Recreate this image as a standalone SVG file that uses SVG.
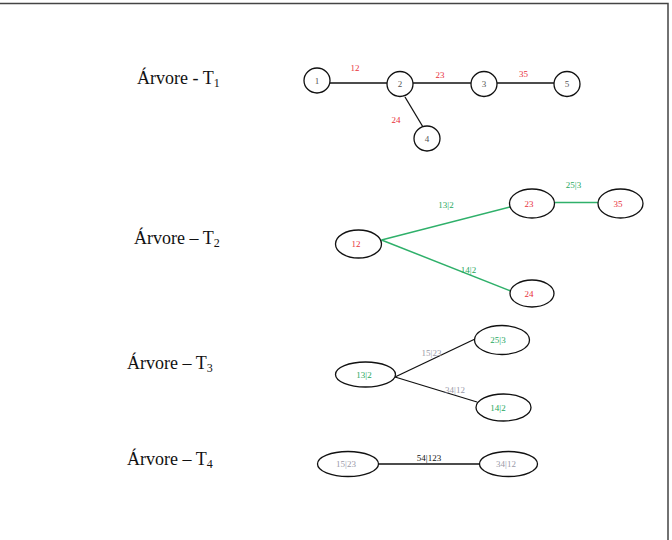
<svg xmlns="http://www.w3.org/2000/svg" width="672" height="540" viewBox="0 0 672 540">
<style>
.n{fill:#fff;stroke:#111;stroke-width:1.3}
.t{font-family:"Liberation Serif",serif;font-size:9px;text-anchor:middle}
.title{font-family:"Liberation Serif",serif;font-size:18px;fill:#111}
.sub{font-size:12px}
.red{fill:#e8303a}
.grn{fill:#1fa860}
.gry{fill:#9a9aa8}
.dk{fill:#555}
.blk{fill:#111}
.e{stroke:#111;stroke-width:1.3;fill:none}
.eg{stroke:#2fb06a;stroke-width:1.5;fill:none}
</style>
<rect width="672" height="540" fill="#fff"/>
<path d="M0 3.5H668V540" fill="none" stroke="#444" stroke-width="1.5"/>

<text class="title" x="137" y="83.5">Árvore - T<tspan class="sub" dy="3">1</tspan></text>
<text class="title" x="134" y="243.5">Árvore – T<tspan class="sub" dy="3">2</tspan></text>
<text class="title" x="127" y="368.5">Árvore – T<tspan class="sub" dy="3">3</tspan></text>
<text class="title" x="127" y="465">Árvore – T<tspan class="sub" dy="3">4</tspan></text>

<g id="connectors">
<line class="e" x1="330" y1="83" x2="387" y2="83"/>
<line class="e" x1="413" y1="83" x2="471" y2="83"/>
<line class="e" x1="497" y1="83" x2="554" y2="83"/>
<line class="e" x1="405" y1="97" x2="423" y2="127"/>
<line class="eg" x1="381.5" y1="240" x2="510" y2="207"/>
<line class="eg" x1="554.5" y1="202.5" x2="598" y2="202.5"/>
<line class="eg" x1="381.5" y1="240" x2="512" y2="291.5"/>
<line class="e" x1="395" y1="377" x2="475" y2="339"/>
<line class="e" x1="395" y1="377" x2="477" y2="402"/>
<line class="e" x1="378.5" y1="464" x2="479.5" y2="464"/>
<text class="t red" x="355" y="71">12</text>
<text class="t red" x="440" y="77.5">23</text>
<text class="t red" x="523.5" y="77">35</text>
<text class="t red" x="396" y="123">24</text>
<text class="t grn" x="446" y="208">13|2</text>
<text class="t grn" x="573.5" y="188">25|3</text>
<text class="t grn" x="468.5" y="272.5">14|2</text>
<text class="t gry" x="431.5" y="356">15|23</text>
<text class="t gry" x="455" y="393">34|12</text>
<text class="t blk" x="429" y="461">54|123</text>
</g>

<g id="n1"><ellipse class="n" cx="317" cy="80.5" rx="13" ry="12.5"/><text class="t dk" x="317" y="83.5">1</text></g>
<g id="n2"><ellipse class="n" cx="400" cy="84" rx="13" ry="12.5"/><text class="t dk" x="400" y="87">2</text></g>
<g id="n3"><ellipse class="n" cx="484" cy="84" rx="13" ry="12.5"/><text class="t dk" x="484" y="87">3</text></g>
<g id="n5"><ellipse class="n" cx="567" cy="84" rx="13" ry="12.5"/><text class="t dk" x="567" y="87">5</text></g>
<g id="n4"><ellipse class="n" cx="427" cy="138.5" rx="13" ry="12.5"/><text class="t dk" x="427" y="141.5">4</text></g>

<g id="t2_12"><ellipse class="n" cx="358.5" cy="244" rx="23" ry="14"/><text class="t red" x="356" y="247">12</text></g>
<g id="t2_23"><ellipse class="n" cx="532" cy="203.5" rx="22.5" ry="14.5"/><text class="t red" x="529" y="206.5">23</text></g>
<g id="t2_35"><ellipse class="n" cx="620.5" cy="203.5" rx="22.5" ry="14.5"/><text class="t red" x="618" y="206.5">35</text></g>
<g id="t2_24"><ellipse class="n" cx="532" cy="293.5" rx="22" ry="13.5"/><text class="t red" x="529" y="296.5">24</text></g>

<g id="t3_132"><ellipse class="n" cx="365.5" cy="374.5" rx="30" ry="12.5"/><text class="t grn" x="364" y="377.5">13|2</text></g>
<g id="t3_253"><ellipse class="n" cx="502" cy="340" rx="27.5" ry="14.5"/><text class="t grn" x="498" y="343">25|3</text></g>
<g id="t3_142"><ellipse class="n" cx="503.5" cy="407.5" rx="27.5" ry="13.5"/><text class="t grn" x="498" y="410.5">14|2</text></g>

<g id="t4_1523"><ellipse class="n" cx="348" cy="464" rx="30.5" ry="12.5"/><text class="t gry" x="346" y="467">15|23</text></g>
<g id="t4_3412"><ellipse class="n" cx="508.5" cy="464" rx="29" ry="12.5"/><text class="t gry" x="506" y="467">34|12</text></g>
</svg>
